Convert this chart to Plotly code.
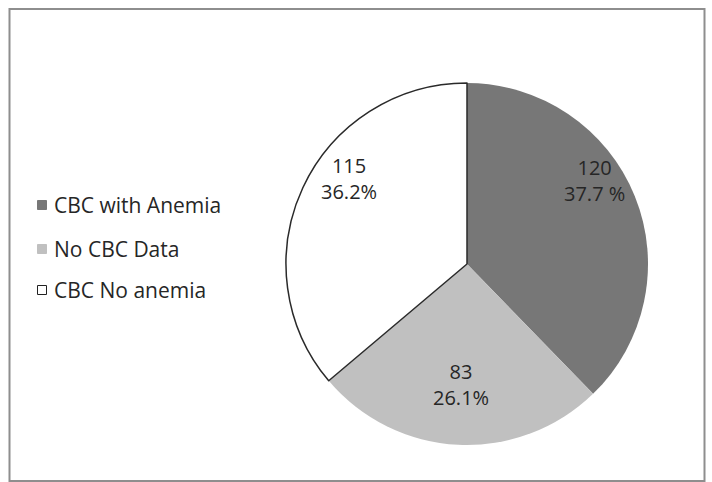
import plotly.graph_objects as go

# Patient groups by complete blood count (CBC) status
categories = ["CBC with Anemia", "No CBC Data", "CBC No anemia"]
counts = [120, 83, 115]
pct_labels = ["37.7 %", "26.1%", "36.2%"]
slice_colors = ["#777777", "#c0c0c0", "#ffffff"]

W, H = 712, 482
cx, cy, r = 467, 264, 181  # pie centre and radius in pixels

def px(x):
    return x / W

def py(y):
    return 1 - y / H

fig = go.Figure(
    go.Pie(
        labels=categories,
        values=counts,
        sort=False,
        direction="clockwise",
        rotation=0,
        textinfo="none",
        hoverinfo="label+value+percent",
        marker=dict(
            colors=slice_colors,
            line=dict(color=["#777777", "#c0c0c0", "#2a2a2a"], width=[0, 0, 1.5]),
        ),
        domain=dict(x=[px(cx - r), px(cx + r)], y=[py(cy + r), py(cy - r)]),
        showlegend=False,
    )
)

# Data labels inside each slice (count over percentage)
label_pos = [(594, 180), (461, 384), (349, 178)]
annotations = []
for (lx, ly), n, p in zip(label_pos, counts, pct_labels):
    annotations.append(dict(
        x=px(lx), y=py(ly), xref="paper", yref="paper",
        text=f"{n}<br>{p}", showarrow=False,
        font=dict(family="Open Sans", size=20, color="#262626"),
        xanchor="center", yanchor="middle", align="center",
    ))

# Legend drawn on the left: colour square plus category name
legend_rows = [205, 249, 290]
shapes = []
for yy, name, col in zip(legend_rows, categories, slice_colors):
    shapes.append(dict(
        type="rect", xref="paper", yref="paper",
        x0=px(37.5), x1=px(46.5), y0=py(yy + 4.5), y1=py(yy - 4.5),
        fillcolor=col,
        line=dict(color="#222222" if col == "#ffffff" else col, width=1),
    ))
    annotations.append(dict(
        x=px(52), y=py(yy), xref="paper", yref="paper",
        text=name, showarrow=False,
        font=dict(family="Open Sans", size=21, color="#262626"),
        xanchor="left", yanchor="middle",
    ))

# Chart-area frame
shapes.append(dict(
    type="rect", xref="paper", yref="paper",
    x0=px(9.5), x1=px(704.5), y0=py(481), y1=py(9),
    line=dict(color="#8e8e8e", width=2), fillcolor="rgba(0,0,0,0)",
))

fig.update_layout(
    width=W, height=H,
    margin=dict(l=0, r=0, t=0, b=0),
    paper_bgcolor="white",
    plot_bgcolor="white",
    annotations=annotations,
    shapes=shapes,
)

fig.write_html("out.html")
